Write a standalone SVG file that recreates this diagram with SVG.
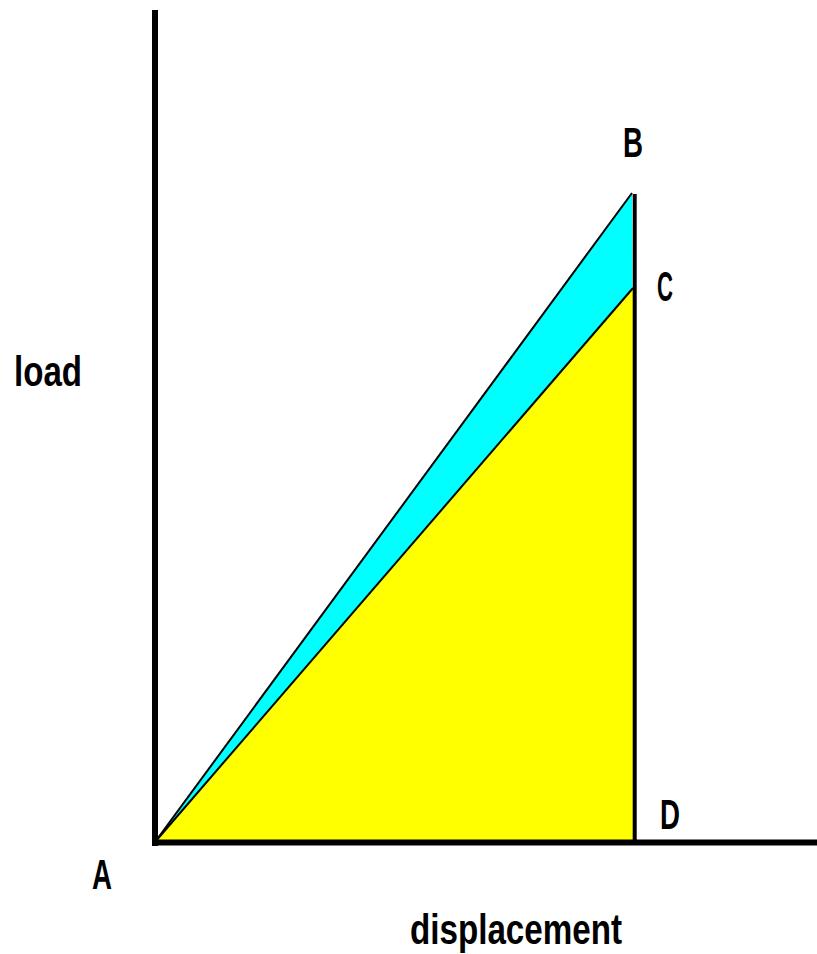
<svg xmlns="http://www.w3.org/2000/svg" width="817" height="954" viewBox="0 0 817 954">
<style>
.lbl{font-family:"Liberation Sans",Arial,sans-serif;font-weight:bold;font-size:42px;fill:#000}
.edge{stroke:#000;stroke-width:2;fill:none}
</style>
<rect width="817" height="954" fill="#fff"/>
<g id="areas">
<polygon points="155,842 632,193 634,842" fill="#00ffff"/>
<polygon points="155,842 633,288 634,842" fill="#ffff00"/>
</g>
<g id="connectors">
<line class="edge" x1="155" y1="842" x2="632" y2="193"/>
<line class="edge" x1="155" y1="842" x2="633" y2="288"/>
<line x1="634.7" y1="194" x2="634.7" y2="842" stroke="#000" stroke-width="4"/>
<line x1="155" y1="10" x2="155" y2="846" stroke="#000" stroke-width="6"/>
<line x1="152" y1="842.5" x2="817" y2="842.5" stroke="#000" stroke-width="6"/>
</g>
<g id="A"><text class="lbl" x="92" y="889" textLength="20" lengthAdjust="spacingAndGlyphs">A</text></g>
<g id="B"><text class="lbl" x="623" y="157" textLength="20" lengthAdjust="spacingAndGlyphs">B</text></g>
<g id="C"><text class="lbl" x="657" y="301" textLength="16" lengthAdjust="spacingAndGlyphs">C</text></g>
<g id="D"><text class="lbl" x="660" y="829" textLength="20" lengthAdjust="spacingAndGlyphs">D</text></g>
<g id="load"><text class="lbl" x="14" y="386" textLength="68" lengthAdjust="spacingAndGlyphs">load</text></g>
<g id="displacement"><text class="lbl" x="410" y="944" textLength="212" lengthAdjust="spacingAndGlyphs">displacement</text></g>
</svg>
